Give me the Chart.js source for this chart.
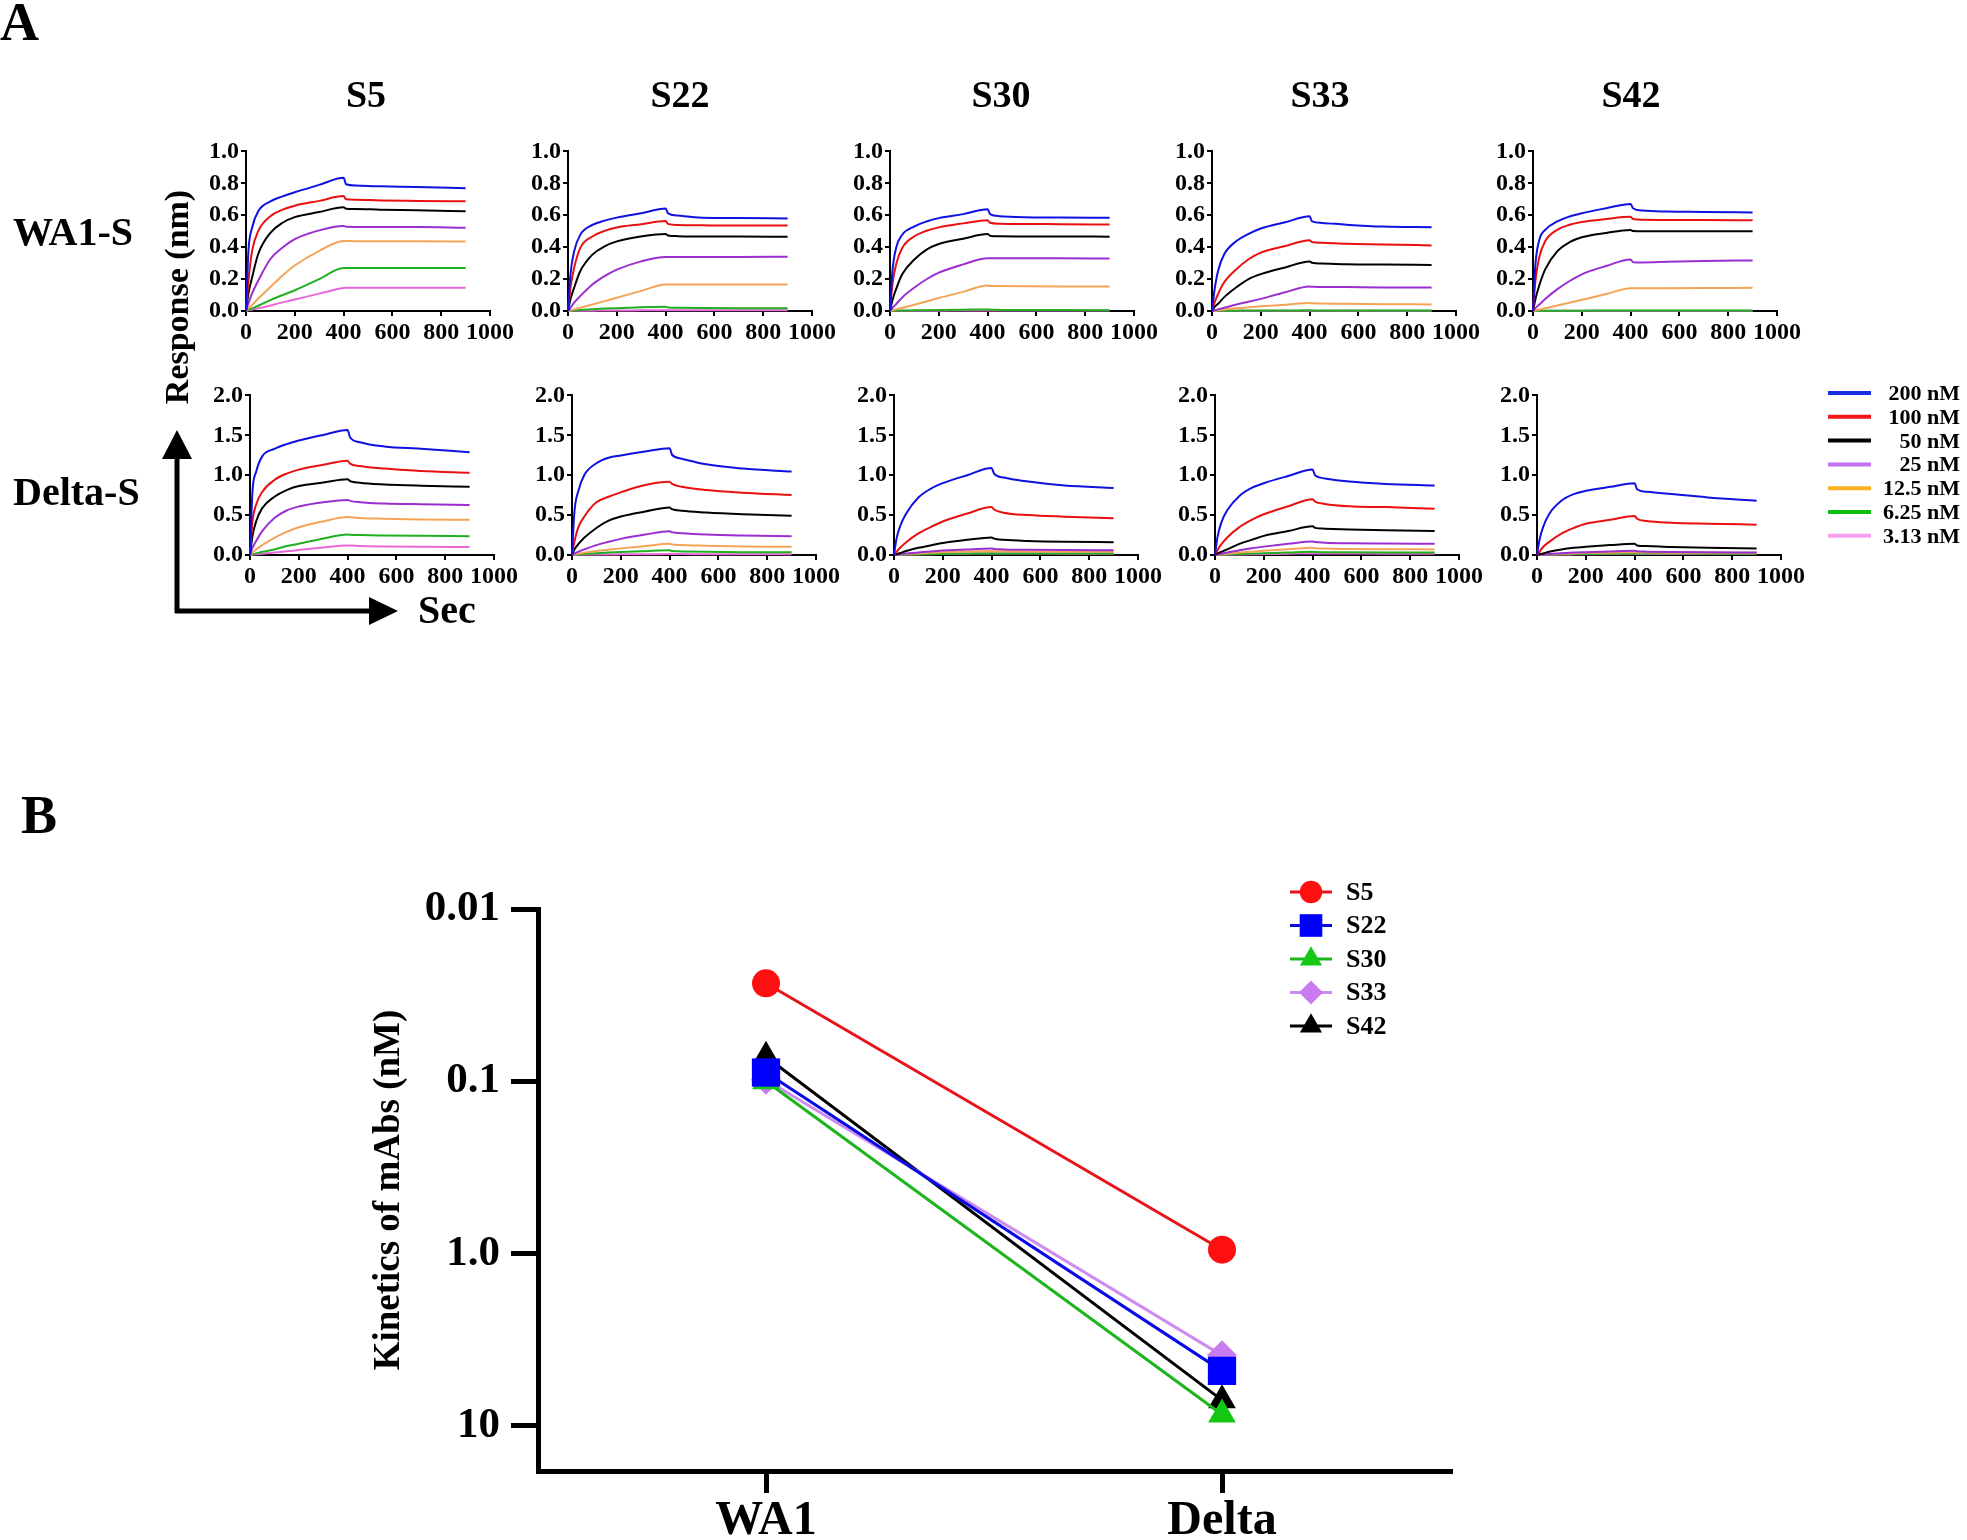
<!DOCTYPE html>
<html>
<head>
<meta charset="utf-8">
<script src="https://cdn.jsdelivr.net/npm/chart.js@4.4.1/dist/chart.umd.min.js"></script>
<style>
  html, body { margin: 0; padding: 0; background: #fff; }
  #page { position: relative; width: 1967px; height: 1540px; overflow: hidden; }
  canvas.p { position: absolute; }
  #overlay { position: absolute; left: 0; top: 0; pointer-events: none; }
  #overlay text { font-family: "Liberation Serif", "Times New Roman", serif; font-weight: bold; fill: #000; }
</style>
</head>
<body>
<div id="page">
  <svg id="overlay" width="1967" height="1540" xmlns="http://www.w3.org/2000/svg"></svg>
</div>
<script>
const FONT = '"Liberation Serif", "Times New Roman", serif';

// ---- panel A: association / dissociation curves ----
const secs = [0, 10, 25, 50, 100, 150, 200, 300, 400, 410, 450, 550, 700, 900];
const concLabels = ["200 nM", "100 nM", "50 nM", "25 nM", "12.5 nM", "6.25 nM", "3.13 nM"];
const mAbs = ["S5", "S22", "S30", "S33", "S42"];
const xTicks = [0, 200, 400, 600, 800, 1000];
const yTicksWA1 = [0, 0.2, 0.4, 0.6, 0.8, 1.0];
const yTicksDelta = [0, 0.5, 1.0, 1.5, 2.0];

// rows: 200, 100, 50, 25, 12.5, 6.25, 3.13 nM
const WA1_S5 = [
  [0, 0.377, 0.522, 0.625, 0.687, 0.718, 0.744, 0.790, 0.835, 0.794, 0.786, 0.781, 0.777, 0.769],
  [0, 0.19, 0.377, 0.50, 0.594, 0.635, 0.66, 0.69, 0.72, 0.70, 0.697, 0.693, 0.69, 0.687],
  [0, 0.11, 0.21, 0.357, 0.49, 0.553, 0.588, 0.62, 0.65, 0.641, 0.639, 0.635, 0.631, 0.625],
  [0, 0.047, 0.11, 0.19, 0.326, 0.398, 0.45, 0.505, 0.532, 0.528, 0.527, 0.526, 0.526, 0.522],
  [0, 0.017, 0.037, 0.078, 0.15, 0.223, 0.285, 0.377, 0.439, 0.438, 0.437, 0.437, 0.437, 0.435],
  [0, 0.007, 0.016, 0.033, 0.068, 0.10, 0.13, 0.20, 0.27, 0.27, 0.27, 0.27, 0.27, 0.27],
  [0, 0.004, 0.009, 0.017, 0.035, 0.054, 0.072, 0.109, 0.144, 0.145, 0.145, 0.145, 0.146, 0.146]
];
const WA1_S22 = [
  [0, 0.228, 0.373, 0.477, 0.539, 0.566, 0.585, 0.612, 0.643, 0.612, 0.598, 0.585, 0.583, 0.579],
  [0, 0.145, 0.27, 0.394, 0.467, 0.502, 0.523, 0.544, 0.564, 0.546, 0.539, 0.537, 0.535, 0.535],
  [0, 0.073, 0.145, 0.249, 0.353, 0.405, 0.436, 0.467, 0.483, 0.473, 0.469, 0.467, 0.467, 0.465],
  [0, 0.02, 0.052, 0.093, 0.166, 0.218, 0.259, 0.311, 0.338, 0.338, 0.338, 0.339, 0.339, 0.34],
  [0, 0.004, 0.01, 0.02, 0.041, 0.062, 0.083, 0.126, 0.166, 0.166, 0.166, 0.166, 0.166, 0.166],
  [0, 0.002, 0.004, 0.007, 0.011, 0.015, 0.018, 0.023, 0.027, 0.022, 0.02, 0.019, 0.018, 0.017],
  [0, 0.001, 0.001, 0.002, 0.002, 0.003, 0.003, 0.004, 0.005, 0.004, 0.004, 0.004, 0.004, 0.004]
];
const WA1_S30 = [
  [0, 0.25, 0.395, 0.478, 0.53, 0.561, 0.582, 0.607, 0.638, 0.607, 0.594, 0.588, 0.586, 0.584],
  [0, 0.168, 0.292, 0.395, 0.468, 0.503, 0.524, 0.549, 0.569, 0.553, 0.547, 0.545, 0.544, 0.542],
  [0, 0.068, 0.137, 0.23, 0.323, 0.385, 0.42, 0.453, 0.482, 0.472, 0.468, 0.467, 0.467, 0.466],
  [0, 0.019, 0.043, 0.085, 0.147, 0.199, 0.24, 0.292, 0.331, 0.331, 0.33, 0.33, 0.33, 0.329],
  [0, 0.004, 0.01, 0.02, 0.039, 0.06, 0.081, 0.12, 0.159, 0.157, 0.156, 0.155, 0.154, 0.153],
  [0, 0.001, 0.002, 0.003, 0.004, 0.005, 0.006, 0.008, 0.01, 0.008, 0.007, 0.006, 0.006, 0.005],
  [0, 0.001, 0.001, 0.001, 0.002, 0.002, 0.002, 0.003, 0.003, 0.003, 0.003, 0.003, 0.003, 0.003]
];
const WA1_S33 = [
  [0, 0.128, 0.252, 0.355, 0.438, 0.483, 0.517, 0.556, 0.593, 0.562, 0.552, 0.541, 0.529, 0.525],
  [0, 0.05, 0.107, 0.18, 0.262, 0.324, 0.366, 0.407, 0.444, 0.432, 0.428, 0.421, 0.417, 0.411],
  [0, 0.025, 0.045, 0.087, 0.149, 0.2, 0.231, 0.273, 0.31, 0.302, 0.298, 0.293, 0.291, 0.289],
  [0, 0.004, 0.01, 0.02, 0.041, 0.058, 0.076, 0.118, 0.153, 0.152, 0.151, 0.15, 0.148, 0.147],
  [0, 0.002, 0.004, 0.008, 0.017, 0.023, 0.029, 0.039, 0.05, 0.048, 0.047, 0.045, 0.043, 0.041],
  [0, 0.001, 0.001, 0.002, 0.002, 0.003, 0.003, 0.003, 0.004, 0.003, 0.003, 0.003, 0.003, 0.003],
  [0, 0, 0.001, 0.001, 0.001, 0.002, 0.002, 0.002, 0.002, 0.002, 0.002, 0.002, 0.002, 0.002]
];
const WA1_S42 = [
  [0, 0.292, 0.441, 0.509, 0.561, 0.592, 0.613, 0.644, 0.671, 0.644, 0.629, 0.623, 0.621, 0.617],
  [0, 0.188, 0.333, 0.437, 0.509, 0.54, 0.557, 0.576, 0.59, 0.576, 0.571, 0.57, 0.57, 0.569],
  [0, 0.075, 0.157, 0.261, 0.375, 0.431, 0.462, 0.489, 0.507, 0.501, 0.499, 0.499, 0.499, 0.499],
  [0, 0.019, 0.039, 0.075, 0.137, 0.188, 0.23, 0.282, 0.323, 0.306, 0.304, 0.308, 0.313, 0.317],
  [0, 0.004, 0.009, 0.017, 0.035, 0.052, 0.07, 0.106, 0.143, 0.142, 0.142, 0.143, 0.144, 0.145],
  [0, 0.001, 0.001, 0.001, 0.002, 0.002, 0.002, 0.003, 0.003, 0.003, 0.003, 0.003, 0.003, 0.003],
  [0, 0, 0, 0.001, 0.001, 0.001, 0.001, 0.002, 0.002, 0.002, 0.002, 0.002, 0.002, 0.002]
];
const Delta_S5 = [
  [0, 0.79, 1.04, 1.236, 1.33, 1.39, 1.434, 1.504, 1.566, 1.475, 1.413, 1.36, 1.331, 1.289],
  [0, 0.42, 0.63, 0.79, 0.94, 1.02, 1.07, 1.13, 1.18, 1.145, 1.116, 1.083, 1.054, 1.03],
  [0, 0.236, 0.42, 0.587, 0.73, 0.814, 0.864, 0.909, 0.95, 0.926, 0.905, 0.884, 0.868, 0.855],
  [0, 0.09, 0.174, 0.298, 0.463, 0.558, 0.607, 0.661, 0.69, 0.678, 0.661, 0.645, 0.636, 0.628],
  [0, 0.03, 0.07, 0.124, 0.215, 0.289, 0.347, 0.421, 0.475, 0.472, 0.463, 0.455, 0.446, 0.442],
  [0, 0.008, 0.02, 0.04, 0.07, 0.112, 0.14, 0.207, 0.256, 0.254, 0.25, 0.245, 0.24, 0.236],
  [0, 0.004, 0.008, 0.015, 0.03, 0.046, 0.062, 0.095, 0.12, 0.118, 0.112, 0.106, 0.102, 0.1]
];
const Delta_S22 = [
  [0, 0.545, 0.793, 1.0, 1.15, 1.219, 1.248, 1.298, 1.339, 1.256, 1.207, 1.136, 1.083, 1.045],
  [0, 0.17, 0.34, 0.48, 0.66, 0.73, 0.785, 0.876, 0.917, 0.89, 0.855, 0.814, 0.781, 0.752],
  [0, 0.07, 0.132, 0.215, 0.339, 0.43, 0.483, 0.545, 0.595, 0.574, 0.554, 0.533, 0.512, 0.492],
  [0, 0.02, 0.04, 0.07, 0.124, 0.165, 0.202, 0.256, 0.298, 0.285, 0.273, 0.256, 0.244, 0.236],
  [0, 0.008, 0.016, 0.028, 0.05, 0.067, 0.083, 0.112, 0.14, 0.132, 0.124, 0.116, 0.107, 0.103],
  [0, 0.003, 0.006, 0.012, 0.022, 0.03, 0.037, 0.048, 0.058, 0.05, 0.045, 0.04, 0.036, 0.033],
  [0, 0.001, 0.002, 0.003, 0.005, 0.007, 0.008, 0.01, 0.012, 0.011, 0.011, 0.01, 0.01, 0.01]
];
const Delta_S30 = [
  [0, 0.2, 0.36, 0.52, 0.72, 0.83, 0.9, 1.0, 1.09, 1.02, 0.97, 0.92, 0.87, 0.84],
  [0, 0.04, 0.09, 0.16, 0.27, 0.35, 0.42, 0.52, 0.6, 0.57, 0.53, 0.5, 0.48, 0.46],
  [0, 0.01, 0.025, 0.05, 0.09, 0.12, 0.15, 0.19, 0.22, 0.205, 0.19, 0.175, 0.165, 0.16],
  [0, 0.004, 0.01, 0.018, 0.032, 0.045, 0.055, 0.07, 0.08, 0.075, 0.07, 0.066, 0.062, 0.06],
  [0, 0.003, 0.006, 0.012, 0.02, 0.028, 0.034, 0.044, 0.05, 0.048, 0.046, 0.044, 0.042, 0.04],
  [0, 0.001, 0.003, 0.005, 0.009, 0.012, 0.014, 0.018, 0.02, 0.019, 0.019, 0.018, 0.018, 0.018],
  [0, 0.001, 0.002, 0.004, 0.007, 0.01, 0.012, 0.016, 0.02, 0.019, 0.018, 0.018, 0.017, 0.017]
];
const Delta_S33 = [
  [0, 0.22, 0.4, 0.56, 0.74, 0.84, 0.9, 0.99, 1.07, 1.0, 0.96, 0.92, 0.89, 0.87],
  [0, 0.06, 0.13, 0.22, 0.35, 0.44, 0.51, 0.61, 0.7, 0.67, 0.64, 0.61, 0.6, 0.58],
  [0, 0.02, 0.04, 0.07, 0.14, 0.19, 0.24, 0.3, 0.36, 0.34, 0.33, 0.32, 0.31, 0.3],
  [0, 0.006, 0.015, 0.03, 0.06, 0.085, 0.105, 0.14, 0.17, 0.162, 0.155, 0.148, 0.144, 0.14],
  [0, 0.003, 0.008, 0.015, 0.03, 0.042, 0.053, 0.072, 0.09, 0.085, 0.08, 0.076, 0.073, 0.07],
  [0, 0.002, 0.004, 0.007, 0.013, 0.018, 0.023, 0.032, 0.04, 0.037, 0.035, 0.033, 0.031, 0.03],
  [0, 0.001, 0.002, 0.003, 0.006, 0.009, 0.011, 0.016, 0.02, 0.019, 0.018, 0.018, 0.017, 0.017]
];
const Delta_S42 = [
  [0, 0.186, 0.35, 0.515, 0.68, 0.763, 0.804, 0.854, 0.9, 0.825, 0.792, 0.763, 0.722, 0.68],
  [0, 0.04, 0.1, 0.165, 0.268, 0.338, 0.392, 0.441, 0.49, 0.454, 0.425, 0.404, 0.392, 0.38],
  [0, 0.01, 0.02, 0.04, 0.07, 0.09, 0.103, 0.124, 0.14, 0.12, 0.112, 0.1, 0.09, 0.082],
  [0, 0.003, 0.007, 0.012, 0.022, 0.03, 0.036, 0.045, 0.052, 0.046, 0.042, 0.038, 0.034, 0.032],
  [0, 0.002, 0.005, 0.009, 0.015, 0.02, 0.024, 0.029, 0.033, 0.031, 0.03, 0.029, 0.028, 0.027],
  [0, 0.001, 0.003, 0.005, 0.009, 0.012, 0.014, 0.017, 0.02, 0.019, 0.018, 0.018, 0.017, 0.017],
  [0, 0.001, 0.002, 0.003, 0.006, 0.008, 0.01, 0.013, 0.015, 0.014, 0.014, 0.013, 0.013, 0.013]
];

// ---- panel B: KD values ----
const strains = ["WA1", "Delta"];
const kdS5 = [0.027, 0.95];
const kdS22 = [0.089, 4.8];
const kdS30 = [0.10, 8.6];
const kdS33 = [0.098, 3.9];
const kdS42 = [0.072, 7.1];
const kdTicks = [0.01, 0.1, 1, 10];
const kdTickLabels = ["0.01", "0.1", "1.0", "10"];

// ---- styles / layout ----
const curveColors = ["#1010e0", "#e81010", "#000000", "#9a2ed0", "#f4a456", "#20b020", "#e868d8"];
const legendColors = ["#1a2de6", "#f01818", "#000000", "#c070f0", "#ffb020", "#10c010", "#f8a0f0"];
const topAxisX = [246, 568, 890, 1212, 1533];
const botAxisX = [250, 572, 894, 1215, 1537];
const titleX = [366, 680, 1001, 1320, 1631];
const PLOT_W = 244, PLOT_H = 162;

const page = document.getElementById("page");

function axisOpts(ticks, fmt, fit) {
  return {
    type: "linear", min: ticks[0], max: ticks[ticks.length - 1],
    afterBuildTicks: (s) => { s.ticks = ticks.map((v) => ({ value: v })); },
    afterFit: fit,
    ticks: { font: { family: FONT, size: 24, weight: "bold" }, color: "#000", padding: 2,
             maxRotation: 0, autoSkip: false, callback: fmt },
    grid: { drawOnChartArea: false, drawTicks: true, tickLength: 5, color: "#000", lineWidth: 2 },
    border: { display: true, color: "#000", width: 2 },
  };
}

function panel(rows, axisX, plotTop, yTicks) {
  const padTop = 14, yW = 50, xH = 34, padR = 28;
  const w = yW + PLOT_W + padR, h = padTop + PLOT_H + xH;
  const cv = document.createElement("canvas");
  cv.className = "p";
  cv.width = w; cv.height = h;
  cv.style.left = (axisX - yW) + "px"; cv.style.top = (plotTop - padTop) + "px";
  cv.style.width = w + "px"; cv.style.height = h + "px";
  page.insertBefore(cv, page.firstChild);
  new Chart(cv, {
    type: "line",
    data: {
      datasets: rows.map((r, i) => ({
        label: concLabels[i],
        data: secs.map((t, k) => ({ x: t, y: r[k] })),
        borderColor: curveColors[i], borderWidth: 2, pointRadius: 0,
        cubicInterpolationMode: "monotone", fill: false, clip: false,
      })),
    },
    options: {
      responsive: false, animation: false, devicePixelRatio: 1,
      layout: { padding: { top: padTop, right: padR, left: 0, bottom: 0 } },
      plugins: { legend: { display: false }, tooltip: { enabled: false } },
      scales: {
        x: axisOpts(xTicks, (v) => String(v), (s) => { s.height = xH; }),
        y: axisOpts(yTicks, (v) => v.toFixed(1), (s) => { s.width = yW; }),
      },
    },
  });
}

[WA1_S5, WA1_S22, WA1_S30, WA1_S33, WA1_S42].forEach((rows, i) => panel(rows, topAxisX[i], 149, yTicksWA1));
[Delta_S5, Delta_S22, Delta_S30, Delta_S33, Delta_S42].forEach((rows, i) => panel(rows, botAxisX[i], 393, yTicksDelta));

// ---- panel B chart ----
const kdLegend = {
  id: "kdLegend",
  afterDraw(chart) {
    const ctx = chart.ctx;
    ctx.save();
    chart.data.datasets.forEach((ds, i) => {
      const y = 32 + i * 33.5;
      ctx.strokeStyle = ds.borderColor; ctx.lineWidth = 3;
      ctx.beginPath(); ctx.moveTo(923, y); ctx.lineTo(965, y); ctx.stroke();
      ctx.fillStyle = ds.pointBackgroundColor;
      Chart.helpers.drawPoint(ctx, { pointStyle: ds.pointStyle, radius: ds.pointRadius * 0.8, borderWidth: 0, rotation: 0 }, 944, y);
      ctx.fillStyle = "#000";
      ctx.font = "bold 26px " + FONT;
      ctx.textBaseline = "middle"; ctx.textAlign = "left";
      ctx.fillText(ds.label, 979, y + 1);
    });
    ctx.restore();
  },
};

(function () {
  const left = 367, top = 860, w = 1103, h = 680;
  const cv = document.createElement("canvas");
  cv.className = "p";
  cv.width = w; cv.height = h;
  cv.style.left = left + "px"; cv.style.top = top + "px";
  cv.style.width = w + "px"; cv.style.height = h + "px";
  page.insertBefore(cv, page.firstChild);
  const sets = [
    { label: "S5", data: kdS5, line: "#e8141b", fill: "#ff0f0f", style: "circle", r: 14, order: 0 },
    { label: "S22", data: kdS22, line: "#0a0ae6", fill: "#0000ff", style: "rect", r: 20, order: 1 },
    { label: "S30", data: kdS30, line: "#1db51d", fill: "#14c814", style: "triangle", r: 16, order: 2 },
    { label: "S33", data: kdS33, line: "#cf8cf0", fill: "#c87cf0", style: "rectRot", r: 15, order: 3 },
    { label: "S42", data: kdS42, line: "#000000", fill: "#000000", style: "triangle", r: 16, order: 4 },
  ];
  new Chart(cv, {
    type: "line",
    data: {
      labels: strains,
      datasets: sets.map((s) => ({
        label: s.label, data: s.data, order: s.order,
        borderColor: s.line, borderWidth: 3,
        pointStyle: s.style, pointRadius: s.r,
        pointBackgroundColor: s.fill, pointBorderColor: s.fill, pointBorderWidth: 0,
        tension: 0, clip: false,
      })),
    },
    options: {
      responsive: false, animation: false, devicePixelRatio: 1,
      layout: { padding: { top: 49, right: 19, left: 0, bottom: 0 } },
      plugins: { legend: { display: false }, tooltip: { enabled: false } },
      scales: {
        x: {
          type: "category", offset: true,
          afterFit: (s) => { s.height = 69; },
          ticks: { font: { family: FONT, size: 48, weight: "bold" }, color: "#000", padding: 0, maxRotation: 0 },
          grid: { offset: false, drawOnChartArea: false, drawTicks: true, tickLength: 22, color: "#000", lineWidth: 5 },
          border: { display: true, color: "#000", width: 5 },
        },
        y: {
          type: "logarithmic", reverse: true, min: 0.01, max: 18.3,
          afterBuildTicks: (s) => { s.ticks = kdTicks.map((v) => ({ value: v })); },
          afterFit: (s) => { s.width = 171; },
          ticks: { font: { family: FONT, size: 43, weight: "bold" }, color: "#000", padding: 11, autoSkip: false,
                   callback: (v, i) => kdTickLabels[i] },
          grid: { drawOnChartArea: false, drawTicks: true, tickLength: 27, color: "#000", lineWidth: 5 },
          border: { display: true, color: "#000", width: 5 },
          title: { display: true, text: "Kinetics of mAbs (nM)", color: "#000",
                   font: { family: FONT, size: 37, weight: "bold" }, padding: { top: 0, bottom: 0 } },
        },
      },
    },
    plugins: [kdLegend],
  });
})();

// ---- labels, arrows and concentration legend ----
const svg = document.getElementById("overlay");
const NS = "http://www.w3.org/2000/svg";
function el(tag, attrs, txt) {
  const e = document.createElementNS(NS, tag);
  for (const k in attrs) e.setAttribute(k, attrs[k]);
  if (txt !== undefined) e.textContent = txt;
  svg.appendChild(e);
  return e;
}
el("text", { x: 0, y: 40, "font-size": 54 }, "A");
el("text", { x: 21, y: 833, "font-size": 54 }, "B");
mAbs.forEach((m, i) => el("text", { x: titleX[i], y: 107, "font-size": 38, "text-anchor": "middle" }, m));
el("text", { x: 13, y: 245, "font-size": 40 }, "WA1-S");
el("text", { x: 13, y: 505, "font-size": 40 }, "Delta-S");
el("text", { transform: "translate(188,297) rotate(-90)", x: 0, y: 0, "font-size": 34, "text-anchor": "middle" }, "Response (nm)");
el("text", { x: 418, y: 623, "font-size": 40 }, "Sec");
el("line", { x1: 177, y1: 613, x2: 177, y2: 455, stroke: "#000", "stroke-width": 5 });
el("polygon", { points: "162,459 192,459 177,430", fill: "#000" });
el("line", { x1: 175, y1: 611, x2: 372, y2: 611, stroke: "#000", "stroke-width": 5 });
el("polygon", { points: "369,597 369,625 398,611", fill: "#000" });
concLabels.forEach((c, i) => {
  const y = 393 + i * 23.8;
  el("line", { x1: 1828, y1: y, x2: 1871, y2: y, stroke: legendColors[i], "stroke-width": 4 });
  el("text", { x: 1960, y: y + 7, "font-size": 22, "text-anchor": "end" }, c);
});
</script>
</body>
</html>
